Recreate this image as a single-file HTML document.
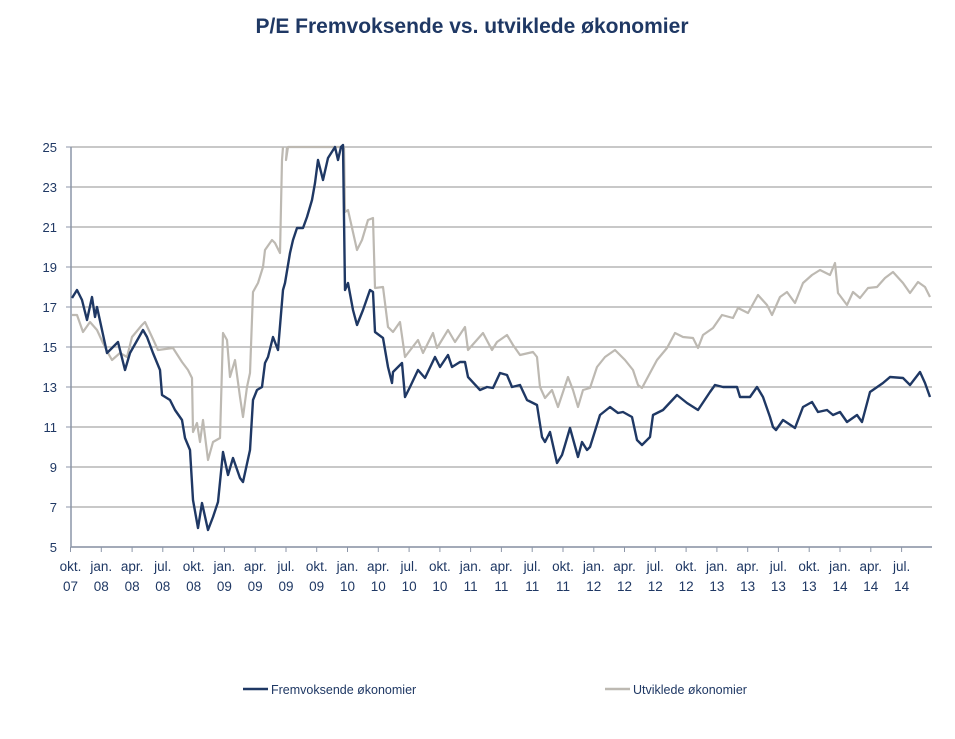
<!DOCTYPE html>
<html><head><meta charset="utf-8"><style>
body{margin:0;background:#fff;width:955px;height:734px;overflow:hidden;font-family:"Liberation Sans",sans-serif}
</style></head><body>
<svg width="955" height="734" xmlns="http://www.w3.org/2000/svg" font-family="Liberation Sans, sans-serif">
<text x="472" y="33" text-anchor="middle" font-size="21" font-weight="bold" fill="#1f3864">P/E Fremvoksende vs. utviklede økonomier</text>
<g stroke="#a6a6a6" stroke-width="1.2">
<line x1="71" y1="147" x2="932" y2="147"/><line x1="71" y1="187" x2="932" y2="187"/><line x1="71" y1="227" x2="932" y2="227"/><line x1="71" y1="267" x2="932" y2="267"/><line x1="71" y1="307" x2="932" y2="307"/><line x1="71" y1="347" x2="932" y2="347"/><line x1="71" y1="387" x2="932" y2="387"/><line x1="71" y1="427" x2="932" y2="427"/><line x1="71" y1="467" x2="932" y2="467"/><line x1="71" y1="507" x2="932" y2="507"/><line x1="71" y1="547" x2="932" y2="547"/>
</g>
<g stroke="#8c96a8" stroke-width="1.5"><line x1="71" y1="147" x2="71" y2="547"/><line x1="71" y1="547" x2="932" y2="547"/></g>
<g stroke="#8c96a8" stroke-width="1">
<line x1="66" y1="147" x2="71" y2="147"/><line x1="66" y1="187" x2="71" y2="187"/><line x1="66" y1="227" x2="71" y2="227"/><line x1="66" y1="267" x2="71" y2="267"/><line x1="66" y1="307" x2="71" y2="307"/><line x1="66" y1="347" x2="71" y2="347"/><line x1="66" y1="387" x2="71" y2="387"/><line x1="66" y1="427" x2="71" y2="427"/><line x1="66" y1="467" x2="71" y2="467"/><line x1="66" y1="507" x2="71" y2="507"/>
</g>
<g font-size="13" fill="#1f3864" text-anchor="end">
<text x="57" y="152">25</text><text x="57" y="192">23</text><text x="57" y="232">21</text><text x="57" y="272">19</text><text x="57" y="312">17</text><text x="57" y="352">15</text><text x="57" y="392">13</text><text x="57" y="432">11</text><text x="57" y="472">9</text><text x="57" y="512">7</text><text x="57" y="552">5</text>
</g>
<g font-size="13.5" fill="#1f3864" text-anchor="middle" id="xl"></g>
<polyline fill="none" stroke="#bdb9b2" stroke-width="2.2" stroke-linejoin="round" points="72,315 77,315 83,332 90,322 97,330 103,343 108,353 112,360 120,353 127,357 132,337 142,325 145,322 152,337 158,350 173,348 182,362 188,370 192,378 193,432 197,423 200,442 203,420 208,460 213,442 220,438 223,333 227,340 230,377 235,360 240,397 243,417 247,387 250,373 253,292 258,283 263,267 265,250 272,240 275,243 280,253 282,160 283,147"/>
<polyline fill="none" stroke="#bdb9b2" stroke-width="2.2" stroke-linejoin="round" points="287,147 286,160 288,147 344,147 345,212 348,210 357,250 362,240 368,220 373,218 375,288 383,287 388,327 393,332 400,322 405,357 408,353 418,340 423,353 433,333 437,348 448,330 455,342 465,327 468,350 483,333 492,350 497,342 507,335 513,345 520,355 533,352 537,357 540,387 545,398 552,390 558,407 568,377 573,390 578,407 583,390 590,388 597,367 605,357 615,350 625,360 633,370 638,385 642,388 650,373 657,360 667,348 675,333 683,337 693,338 698,348 703,335 713,328 722,315 733,318 738,308 748,313 758,295 767,305 772,315 780,297 787,292 795,303 803,283 812,275 820,270 830,275 835,263 838,293 847,305 853,292 860,298 868,288 877,287 885,278 893,272 903,283 910,293 918,282 925,287 930,297"/>
<polyline fill="none" stroke="#1f3864" stroke-width="2.4" stroke-linejoin="round" points="72,298 77,290 82,300 87,320 92,297 95,317 97,307 102,330 107,353 118,342 125,370 130,353 143,330 147,337 153,353 160,370 162,395 170,400 175,410 182,420 185,438 190,450 193,500 198,528 202,503 208,530 213,517 218,502 223,452 228,475 233,458 240,478 243,482 250,450 253,400 257,390 262,387 265,363 268,357 273,337 278,350 283,290 285,283 290,253 293,240 297,228 303,228 307,217 312,200 315,183 318,160 323,180 328,158 335,147 338,160 341,147 343,145 345,290 348,283 353,310 357,325 363,310 370,290 373,292 375,332 383,338 388,367 392,383 393,372 402,363 405,397 410,387 418,370 425,378 435,357 440,367 448,355 452,367 460,362 465,362 468,377 480,390 487,387 493,388 500,373 507,375 512,387 520,385 527,400 537,405 542,437 545,442 550,432 557,463 562,455 565,445 570,428 578,457 582,442 587,450 590,447 600,415 610,407 618,413 623,412 632,417 637,440 642,445 650,437 653,415 663,410 677,395 687,403 698,410 710,392 715,385 723,387 737,387 740,397 750,397 757,387 763,397 770,417 773,427 776,430 783,420 795,428 803,407 812,402 818,412 827,410 833,415 840,412 847,422 857,415 862,422 870,392 883,383 890,377 903,378 910,385 920,372 925,383 930,397"/>
<line x1="243" y1="689" x2="268" y2="689" stroke="#1f3864" stroke-width="2.5"/>
<text x="271" y="694" font-size="12.5" fill="#1f3864">Fremvoksende økonomier</text>
<line x1="605" y1="689" x2="630" y2="689" stroke="#bdb9b2" stroke-width="2.5"/>
<text x="633" y="694" font-size="12.5" fill="#1f3864">Utviklede økonomier</text>
</svg>
<script>
var m=["okt.","jan.","apr.","jul."],g=document.getElementById("xl"),s="",tk="";
for(var i=0;i<28;i++){var x=70.5+i*30.78;var mi=i%4;var yr=7+Math.floor((i+3)/4);
s+='<text x="'+x.toFixed(1)+'" y="571">'+m[mi]+'</text><text x="'+x.toFixed(1)+'" y="591">'+(yr<10?"0"+yr:yr)+'</text>';
tk+='<line x1="'+x.toFixed(1)+'" y1="547" x2="'+x.toFixed(1)+'" y2="552" stroke="#8c96a8"/>';}
g.innerHTML=s;g.insertAdjacentHTML("afterend",tk);
</script>
</body></html>
